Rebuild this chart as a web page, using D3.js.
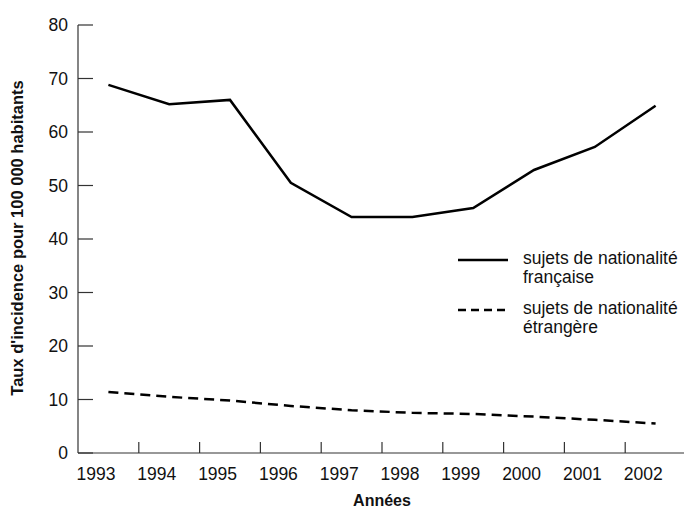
<!DOCTYPE html>
<html>
<head>
<meta charset="utf-8">
<script src="https://cdn.jsdelivr.net/npm/d3@7"></script>
<style>
  body { margin: 0; background: #fff; }
  svg text { font-family: "Liberation Sans", Arial, sans-serif; fill: #111; }
</style>
</head>
<body>
<div class="container"></div>
<script>
var years = [1993, 1994, 1995, 1996, 1997, 1998, 1999, 2000, 2001, 2002];
var francais = [68.8, 65.2, 66.0, 50.5, 44.1, 44.1, 45.8, 52.9, 57.2, 64.9];
var etrangers = [11.4, 10.5, 9.8, 8.8, 8.0, 7.5, 7.3, 6.8, 6.2, 5.5];
var yTicks = [0, 10, 20, 30, 40, 50, 60, 70, 80];
var legendLabels = [["sujets de nationalité", "française"], ["sujets de nationalité", "étrangère"]];

var w = 684, h = 508;
var margin = {top: 25, left: 78, bottom: 55};

var svg = d3.select('.container')
  .append('svg')
  .attr('width', w)
  .attr('height', h);

var x = d3.scaleBand()
  .domain(years)
  .range([margin.left, margin.left + 608]);

var y = d3.scaleLinear()
  .domain([0, 80])
  .range([h - margin.bottom, margin.top]);

var axisColor = '#333';

/* ===== AXES ===== */
svg.append('line')
  .attr('x1', margin.left).attr('x2', margin.left)
  .attr('y1', y(80)).attr('y2', y(0))
  .attr('stroke', axisColor).attr('stroke-width', 1.2);

svg.append('line')
  .attr('x1', margin.left).attr('x2', w)
  .attr('y1', y(0)).attr('y2', y(0))
  .attr('stroke', axisColor).attr('stroke-width', 1.2);

svg.selectAll('.ytick')
  .data(yTicks)
  .enter().append('line')
  .attr('x1', margin.left).attr('x2', margin.left + 15)
  .attr('y1', function(d) { return y(d); })
  .attr('y2', function(d) { return y(d); })
  .attr('stroke', axisColor).attr('stroke-width', 1.2);

svg.selectAll('.ylab')
  .data(yTicks)
  .enter().append('text')
  .attr('x', 68)
  .attr('y', function(d) { return y(d) + 6; })
  .attr('text-anchor', 'end')
  .attr('font-size', '17.5px')
  .text(function(d) { return d; });

svg.selectAll('.xtick')
  .data(years.slice(1))
  .enter().append('line')
  .attr('x1', function(d) { return x(d); })
  .attr('x2', function(d) { return x(d); })
  .attr('y1', y(0)).attr('y2', y(0) - 11)
  .attr('stroke', axisColor).attr('stroke-width', 1.2);

svg.selectAll('.xlab')
  .data(years)
  .enter().append('text')
  .attr('x', function(d) { return x(d) + 18; })
  .attr('y', y(0) + 27)
  .attr('text-anchor', 'middle')
  .attr('font-size', '17.5px')
  .text(function(d) { return d; });

/* ===== LABELS ===== */
svg.append('text')
  .attr('x', 382)
  .attr('y', 506)
  .attr('text-anchor', 'middle')
  .attr('font-size', '16px')
  .attr('font-weight', 'bold')
  .text('Années');

svg.append('text')
  .attr('transform', 'translate(23,238) rotate(-90)')
  .attr('text-anchor', 'middle')
  .attr('font-size', '16.5px')
  .attr('font-weight', 'bold')
  .text("Taux d'incidence pour 100 000 habitants");

/* ===== LINES ===== */
var line = d3.line()
  .x(function(d, i) { return x(years[i]) + x.bandwidth() / 2; })
  .y(function(d) { return y(d); });

svg.append('path')
  .attr('d', line(francais))
  .attr('fill', 'none')
  .attr('stroke', '#000')
  .attr('stroke-width', 2.5);

svg.append('path')
  .attr('d', line(etrangers))
  .attr('fill', 'none')
  .attr('stroke', '#000')
  .attr('stroke-width', 2.5)
  .attr('stroke-dasharray', '10,6');

/* ===== LEGEND ===== */
var legend = svg.selectAll('.legend')
  .data(legendLabels)
  .enter().append('g')
  .attr('transform', function(d, i) { return 'translate(458,' + (260 + i * 50) + ')'; });

legend.append('line')
  .attr('x1', 0).attr('x2', 50)
  .attr('stroke', '#000')
  .attr('stroke-width', 2.5)
  .attr('stroke-dasharray', function(d, i) { return i ? '8,5' : null; });

legend.append('text')
  .attr('x', 65)
  .attr('y', 4)
  .attr('font-size', '17.5px')
  .text(function(d) { return d[0]; });

legend.append('text')
  .attr('x', 65)
  .attr('y', 23)
  .attr('font-size', '17.5px')
  .text(function(d) { return d[1]; });
</script>
</body>
</html>
